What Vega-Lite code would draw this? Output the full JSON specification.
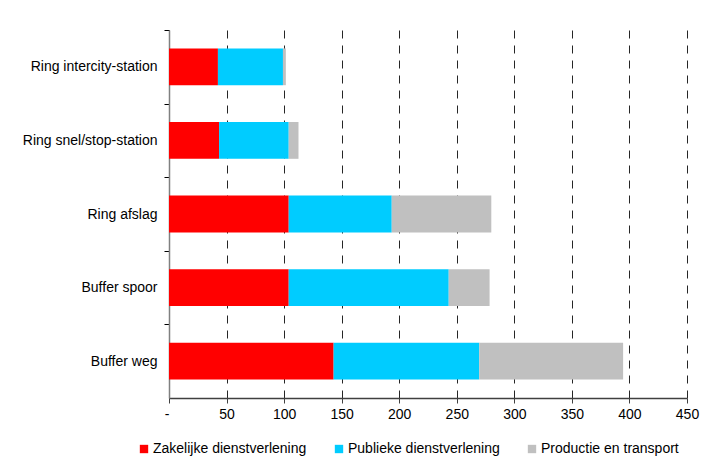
{
  "$schema": "https://vega.github.io/schema/vega-lite/v6.json",
  "autosize": "none",
  "width": 518,
  "height": 368,
  "padding": {"left": 169, "top": 30, "right": 17, "bottom": 60},
  "background": "white",
  "config": {
    "view": {"stroke": null},
    "font": "Liberation Sans",
    "axis": {"labelFont": "Liberation Sans", "labelFontSize": 14, "labelColor": "#000000", "titleFont": "Liberation Sans"},
    "legend": {"labelFont": "Liberation Sans", "labelFontSize": 14, "labelColor": "#000000"}
  },
  "data": {
    "values": [
      {"locatie": "Ring intercity-station", "sector": "Zakelijke dienstverlening", "volgorde": 1, "waarde": 42.5},
      {"locatie": "Ring intercity-station", "sector": "Publieke dienstverlening", "volgorde": 2, "waarde": 56.5},
      {"locatie": "Ring intercity-station", "sector": "Productie en transport", "volgorde": 3, "waarde": 2.5},
      {"locatie": "Ring snel/stop-station", "sector": "Zakelijke dienstverlening", "volgorde": 1, "waarde": 43.5},
      {"locatie": "Ring snel/stop-station", "sector": "Publieke dienstverlening", "volgorde": 2, "waarde": 60.5},
      {"locatie": "Ring snel/stop-station", "sector": "Productie en transport", "volgorde": 3, "waarde": 8.5},
      {"locatie": "Ring afslag", "sector": "Zakelijke dienstverlening", "volgorde": 1, "waarde": 104},
      {"locatie": "Ring afslag", "sector": "Publieke dienstverlening", "volgorde": 2, "waarde": 89.5},
      {"locatie": "Ring afslag", "sector": "Productie en transport", "volgorde": 3, "waarde": 86.5},
      {"locatie": "Buffer spoor", "sector": "Zakelijke dienstverlening", "volgorde": 1, "waarde": 104},
      {"locatie": "Buffer spoor", "sector": "Publieke dienstverlening", "volgorde": 2, "waarde": 139},
      {"locatie": "Buffer spoor", "sector": "Productie en transport", "volgorde": 3, "waarde": 35.5},
      {"locatie": "Buffer weg", "sector": "Zakelijke dienstverlening", "volgorde": 1, "waarde": 143},
      {"locatie": "Buffer weg", "sector": "Publieke dienstverlening", "volgorde": 2, "waarde": 126.5},
      {"locatie": "Buffer weg", "sector": "Productie en transport", "volgorde": 3, "waarde": 125}
    ]
  },
  "mark": {"type": "bar"},
  "encoding": {
    "y": {
      "field": "locatie",
      "type": "nominal",
      "sort": ["Ring intercity-station", "Ring snel/stop-station", "Ring afslag", "Buffer spoor", "Buffer weg"],
      "scale": {"paddingInner": 0.5, "paddingOuter": 0.25},
      "axis": {
        "title": null,
        "tickOffset": -36.8,
        "labelOffset": 36.8,
        "domainColor": "#808080",
        "domainWidth": 1.5,
        "tickColor": "#000000",
        "tickSize": 5,
        "labelPadding": 7,
        "grid": false
      }
    },
    "x": {
      "field": "waarde",
      "type": "quantitative",
      "stack": "zero",
      "scale": {"domain": [0, 450], "nice": false},
      "axis": {
        "title": null,
        "values": [0, 50, 100, 150, 200, 250, 300, 350, 400, 450],
        "labelExpr": "datum.value === 0 ? '-\u00a0' : datum.label",
        "labelAlign": {"condition": {"test": "datum.value === 0", "value": "right"}, "value": "center"},
        "format": "d",
        "domainColor": "#404040",
        "domainWidth": 1.5,
        "tickColor": "#404040",
        "tickSize": 5,
        "labelPadding": 4,
        "grid": true,
        "gridColor": "#000000",
        "gridDash": [8, 7],
        "gridWidth": 1,
        "gridOpacity": 0.85
      }
    },
    "color": {
      "field": "sector",
      "type": "nominal",
      "scale": {
        "domain": ["Zakelijke dienstverlening", "Publieke dienstverlening", "Productie en transport"],
        "range": ["#FF0000", "#00CCFF", "#C0C0C0"]
      },
      "legend": {
        "title": null,
        "orient": "none",
        "direction": "horizontal",
        "columns": 3,
        "gridAlign": "none",
        "columnPadding": 25,
        "legendX": -32,
        "legendY": 412,
        "padding": 0,
        "symbolType": "square",
        "symbolSize": 70,
        "symbolStrokeWidth": 0,
        "symbolOpacity": 1,
        "labelOffset": 2
      }
    },
    "order": {"field": "volgorde", "type": "quantitative"}
  }
}
